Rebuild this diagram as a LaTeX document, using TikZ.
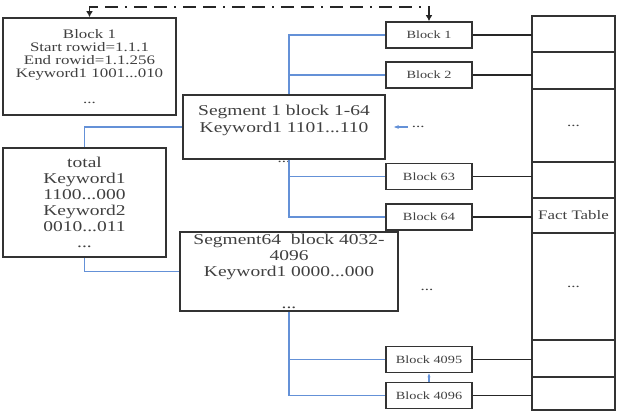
\documentclass[tikz,border=0pt]{standalone}
\usepackage{fontspec}
\setmainfont{Liberation Serif}[FakeStretch=1.3]
\usepackage{tikz}
\usetikzlibrary{positioning,arrows.meta}
\definecolor{linkblue}{RGB}{100,145,215}

\begin{document}
\begin{tikzpicture}[x=1pt,y=-1pt,
    box/.style={draw=black!80,line width=1.8pt,fill=white,align=center,text=black!75,inner sep=0pt},
    blockbox/.style={box,minimum width=86pt,minimum height=26pt,font=\fontsize{11}{12}\selectfont},
    cell/.style={draw=black!80,line width=1.8pt,minimum width=83pt,inner sep=0pt,outer sep=0pt,text=black!75,font=\fontsize{13}{14}\selectfont},
    dots/.style={text=black!75,font=\fontsize{13}{13}\selectfont},
    link/.style={linkblue,line width=1.5pt},
    rowline/.style={black!85,line width=1.5pt}]

    \useasboundingbox (0,0) rectangle (619,410);

    \node[box,minimum width=173pt,minimum height=97pt,font=\fontsize{13}{13}\selectfont] (blk) at (89.5,66.5)
        {Block 1\\Start rowid=1.1.1\\End rowid=1.1.256\\Keyword1 1001...010\\[13pt]...};
    \node[box,minimum width=202pt,minimum height=64pt,font=\fontsize{15}{17}\selectfont,
          label={[dots,anchor=center,yshift=-2pt]south:...}] (seg1) at (284,127)
        {Segment 1 block 1-64\\Keyword1 1101...110\\\mbox{}};
    \node[box,minimum width=163pt,minimum height=109pt,font=\fontsize{15}{16}\selectfont] (tot) at (84.5,202.5)
        {total\\Keyword1\\1100...000\\Keyword2\\0010...011\\...};
    \node[box,minimum width=218pt,minimum height=79pt,font=\fontsize{15}{16}\selectfont] (seg64) at (289,271.5)
        {Segment64~~block 4032-\\4096\\Keyword1 0000...000\\[16pt]...};

    \node[blockbox] (b1) at (429,35) {Block 1};
    \node[blockbox] (b2) at (429,75) {Block 2};
    \node[blockbox] (b63) at (429,176.5) {Block 63};
    \node[blockbox] (b64) at (429,217) {Block 64};
    \node[blockbox] (b4095) at (429,359.5) {Block 4095};
    \node[blockbox] (b4096) at (429,395.5) {Block 4096};
    \node[dots] (more2) at (427,290) {...};

    % fact table
    \node[cell,minimum height=36pt,anchor=north] (c1) at (573.5,16) {};
    \node[cell,minimum height=37pt,below=0pt of c1] (c2) {};
    \node[cell,minimum height=73pt,below=0pt of c2] (c3) {...};
    \node[cell,minimum height=36pt,below=0pt of c3] (c4) {};
    \node[cell,minimum height=35pt,below=0pt of c4] (c5) {Fact Table};
    \node[cell,minimum height=107pt,below=0pt of c5] (c6) {...};
    \node[cell,minimum height=37pt,below=0pt of c6] (c7) {};
    \node[cell,minimum height=33pt,below=0pt of c7] (c8) {};

    \draw[rowline] (b1.east) -- (b1.east -| c1.west);
    \draw[rowline] (b2.east) -- (b2.east -| c2.west);
    \draw[rowline] (b63.east) -- (b63.east -| c4.west);
    \draw[rowline] (b64.east) -- (b64.east -| c5.west);
    \draw[rowline] (b4095.east) -- (b4095.east -| c7.west);
    \draw[rowline] (b4096.east) -- (b4096.east -| c8.west);

    \draw[link] ([xshift=5pt]seg1.north) |- (b1.west);
    \draw[link] ([xshift=5pt]seg1.north) |- (b2.west);
    \draw[link] ([xshift=5pt]seg1.south) |- (b63.west);
    \draw[link] ([xshift=5pt]seg1.south) |- (b64.west);
    \draw[link] (tot.north) |- (seg1.west);
    \draw[link] (tot.south) |- (seg64.west);
    \draw[link] (seg64.south) |- (b4095.west);
    \draw[link] (seg64.south) |- (b4096.west);
    \draw[link,-{Stealth[length=4pt]}] (b4096.north) -- (b4095.south);
    \draw[link,{Stealth[length=5pt]}-] ([xshift=8pt]seg1.east) -- ++(14,0) node[dots,right] (more1) {...};

    \draw[black!85,line width=1.8pt,dash pattern=on 13pt off 7pt on 13pt off 7pt on 2pt off 7pt,
          {Latex[length=6pt,width=7pt]}-{Latex[length=6pt,width=7pt]}] (blk.north) -- ++(0,-10) -| (b1.north);
\end{tikzpicture}
\end{document}
